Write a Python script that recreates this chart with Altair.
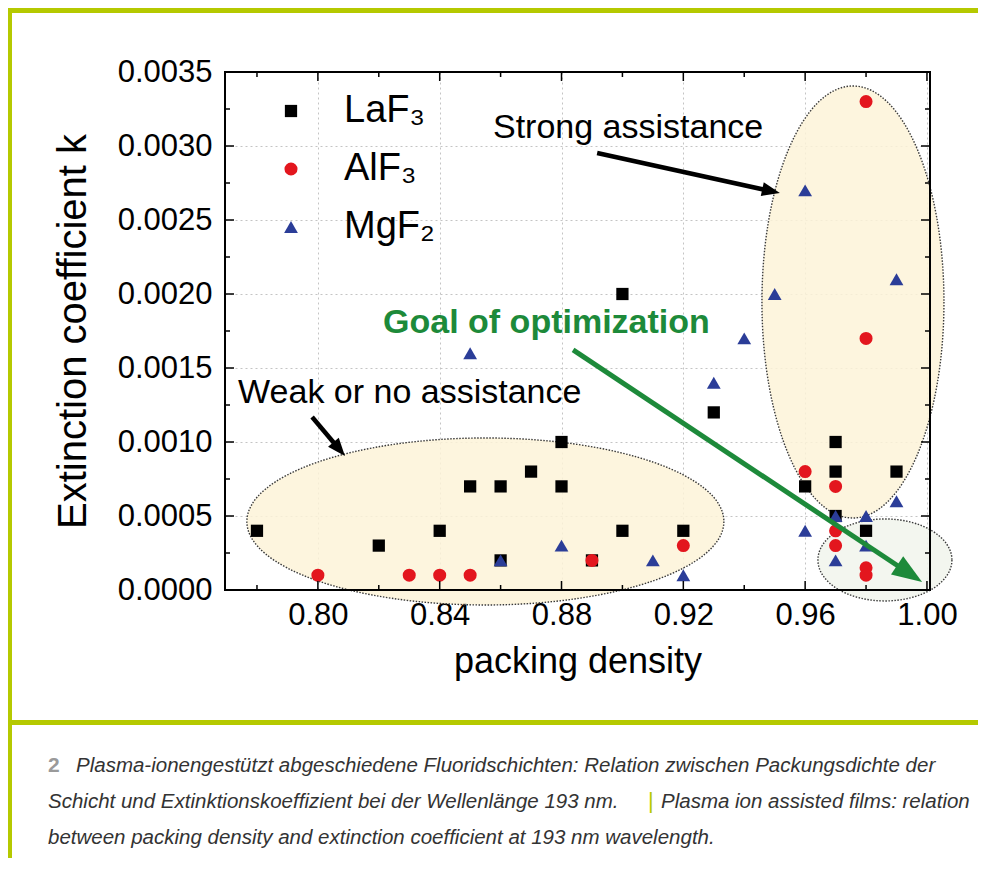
import math
import altair as alt
import pandas as pd

# ---------------- data ----------------
materials = ["LaF₃", "AlF₃", "MgF₂"]

laf3_x = [0.78, 0.82, 0.84, 0.85, 0.86, 0.86, 0.87, 0.88, 0.88, 0.89, 0.90, 0.90,
          0.92, 0.93, 0.96, 0.97, 0.97, 0.97, 0.98, 0.99]
laf3_y = [0.0004, 0.0003, 0.0004, 0.0007, 0.0007, 0.0002, 0.0008, 0.0010, 0.0007, 0.0002,
          0.0020, 0.0004, 0.0004, 0.0012, 0.0007, 0.0010, 0.0008, 0.0005, 0.0004, 0.0008]

alf3_x = [0.80, 0.83, 0.84, 0.85, 0.89, 0.92, 0.96, 0.97, 0.97, 0.97, 0.98, 0.98, 0.98, 0.98]
alf3_y = [0.0001, 0.0001, 0.0001, 0.0001, 0.0002, 0.0003, 0.0008, 0.0007, 0.0004, 0.0003,
          0.0033, 0.0017, 0.00015, 0.0001]

mgf2_x = [0.85, 0.86, 0.88, 0.91, 0.92, 0.93, 0.94, 0.95, 0.96, 0.96, 0.97, 0.97,
          0.98, 0.98, 0.99, 0.99]
mgf2_y = [0.0016, 0.0002, 0.0003, 0.0002, 0.0001, 0.0014, 0.0017, 0.0020, 0.0027, 0.0004,
          0.0005, 0.0002, 0.0005, 0.0003, 0.0021, 0.0006]

x_major_ticks = [0.80, 0.84, 0.88, 0.92, 0.96, 1.00]
x_minor_ticks = [0.78, 0.82, 0.86, 0.90, 0.94, 0.98]
y_major_ticks = [0.0, 0.0005, 0.0010, 0.0015, 0.0020, 0.0025, 0.0030, 0.0035]
y_minor_ticks = [0.00025, 0.00075, 0.00125, 0.00175, 0.00225, 0.00275, 0.00325]

x_title = "packing density"
y_title = "Extinction coefficient k"

label_strong = "Strong assistance"
label_weak = "Weak or no assistance"
label_goal = "Goal of optimization"

caption_num = "2"
caption_l1 = "Plasma-ionengestützt abgeschiedene Fluoridschichten: Relation zwischen Packungsdichte der"
caption_l2a = "Schicht und Extinktionskoeffizient bei der Wellenlänge 193 nm."
caption_sep = "|"
caption_l2b = "Plasma ion assisted films: relation"
caption_l3 = "between packing density and extinction coefficient at 193 nm wavelength."

# annotation anchors in data units
ell_weak = {"cx": 0.8550, "cy": 0.000463}
ell_strong = {"cx": 0.9757, "cy": 0.001946}
ell_goal = {"cx": 0.9862, "cy": 0.000203}
arrow_strong = (0.8917, 0.002953, 0.9517, 0.002682)
arrow_weak = (0.7981, 0.001169, 0.8089, 0.000905)
arrow_goal = (0.8838, 0.001622, 0.9984, 0.000054)
text_strong = (0.8575, 0.003054)
text_weak = (0.7738, 0.001264)
text_goal = (0.8214, 0.001737)

# ---------------- layout / style ----------------
W, H = 705, 518
X_DOMAIN = [0.7695, 1.001]
Y_DOMAIN = [0.0, 0.0035]
FONT = "Liberation Sans, Arial, Helvetica, sans-serif"
CAP_FONT = "Liberation Sans, Arial, sans-serif"
LIME = "#b5c900"
GREEN = "#1d8a3a"
OX, OY = 225, 72  # page position of plot origin

kx = W / (X_DOMAIN[1] - X_DOMAIN[0])
ky = H / (Y_DOMAIN[1] - Y_DOMAIN[0])

xs = alt.Scale(domain=X_DOMAIN, nice=False, zero=False)
ys = alt.Scale(domain=Y_DOMAIN, nice=False, zero=False)

x_axis = alt.Axis(title=x_title, values=x_major_ticks, format=".2f", ticks=False, domain=False,
                  labelFont=FONT, labelFontSize=31, labelColor="black", labelPadding=10,
                  titleFont=FONT, titleFontSize=36, titleFontWeight="normal", titleColor="black",
                  titlePadding=14, grid=True, gridDash=[2, 3], gridColor="#c4c4c4", gridWidth=1)
y_axis = alt.Axis(title=y_title, values=y_major_ticks, format=".4f", ticks=False, domain=False,
                  labelFont=FONT, labelFontSize=31, labelColor="black", labelPadding=13,
                  titleFont=FONT, titleFontSize=40, titleFontWeight="normal", titleColor="black",
                  titlePadding=24, grid=True, gridDash=[2, 3], gridColor="#c4c4c4", gridWidth=1)


def X(f):
    return alt.X(f, type="quantitative", scale=xs, axis=x_axis)


def Y(f):
    return alt.Y(f, type="quantitative", scale=ys, axis=y_axis)


one = pd.DataFrame({"k": [0]})

# ---------------- scatter ----------------
rows = []
for name, xv, yv in [(materials[0], laf3_x, laf3_y), (materials[1], alf3_x, alf3_y),
                     (materials[2], mgf2_x, mgf2_y)]:
    for a, b in zip(xv, yv):
        rows.append({"material": name, "pd": a, "k": b})
df = pd.DataFrame(rows)

legend = alt.Legend(orient="none", legendX=47, legendY=20, title=None, labelFont=FONT,
                    labelFontSize=38, labelColor="black", symbolSize=170, rowPadding=20,
                    labelOffset=34, symbolStrokeWidth=0, padding=0)

points = alt.Chart(df).mark_point(filled=True, opacity=1, strokeWidth=0).encode(
    x=X("pd"), y=Y("k"),
    color=alt.Color("material:N", scale=alt.Scale(domain=materials,
                                                  range=["#000000", "#e3161e", "#2b3d98"]),
                    legend=legend),
    shape=alt.Shape("material:N", scale=alt.Scale(domain=materials,
                                                  range=["square", "circle", "triangle-up"]),
                    legend=legend),
    size=alt.Size("material:N", scale=alt.Scale(domain=materials, range=[150, 190, 300]),
                  legend=None),
)


# ---------------- ellipses ----------------
def ellipse_path(rx, ry):
    k = 0.5523
    f = lambda v: f"{v:.4f}"
    return (f"M {f(rx)} 0 C {f(rx)} {f(k*ry)} {f(k*rx)} {f(ry)} 0 {f(ry)} "
            f"C {f(-k*rx)} {f(ry)} {f(-rx)} {f(k*ry)} {f(-rx)} 0 "
            f"C {f(-rx)} {f(-k*ry)} {f(-k*rx)} {f(-ry)} 0 {f(-ry)} "
            f"C {f(k*rx)} {f(-ry)} {f(rx)} {f(-k*ry)} {f(rx)} 0 Z")


def ellipse(center, rx_px, ry_px, fill):
    r = max(rx_px, ry_px)
    return alt.Chart(pd.DataFrame([center])).mark_point(
        shape=ellipse_path(rx_px / r, ry_px / r), size=(2 * r) ** 2, filled=True,
        fill=fill, fillOpacity=0.85, stroke="#3a3a3a", strokeWidth=1.4,
        strokeDash=[1.5, 1.5], opacity=1,
    ).encode(x=X("cx"), y=Y("cy"))


e_weak = ellipse(ell_weak, 238.5, 83.5, "#fdf3d8")
e_strong = ellipse(ell_strong, 91, 216, "#fdf3d8")
e_goal = ellipse(ell_goal, 67, 41, "#f1f4ec")


# ---------------- arrows ----------------
def arrow(coords, color, width, head_len, head_half):
    x0, y0, x1, y1 = coords
    dxp = (x1 - x0) * kx
    dyp = -(y1 - y0) * ky
    L = math.hypot(dxp, dyp)
    ux, uy = dxp / L, dyp / L
    back = head_len * 0.6
    xe = x1 - back * ux / kx
    ye = y1 + back * uy / ky
    ang = math.degrees(math.atan2(dyp, dxp)) % 360
    d = pd.DataFrame({"x0": [x0], "y0": [y0], "xe": [xe], "ye": [ye], "x1": [x1], "y1": [y1]})
    line = alt.Chart(d).mark_rule(color=color, strokeWidth=width).encode(
        x=X("x0"), y=Y("y0"), x2=alt.X2("xe"), y2=alt.Y2("ye"))
    s = head_len / 2
    hp = f"M 0 0 L -2 {-head_half / s:.4f} L -2 {head_half / s:.4f} Z"
    head = alt.Chart(d).mark_point(shape=hp, size=(2 * s) ** 2, filled=True, color=color,
                                   opacity=1, strokeWidth=0, angle=ang).encode(
        x=X("x1"), y=Y("y1"))
    return line + head


a_strong = arrow(arrow_strong, "black", 4.5, 18, 7)
a_weak = arrow(arrow_weak, "black", 4.5, 18, 7)
a_goal = arrow(arrow_goal, GREEN, 5, 30, 11)


# ---------------- annotation texts ----------------
def dtext(pos, txt, size, color, weight="normal"):
    d = pd.DataFrame({"x": [pos[0]], "y": [pos[1]]})
    return alt.Chart(d).mark_text(align="left", baseline="alphabetic", font=FONT, fontSize=size,
                                  color=color, fontWeight=weight).encode(
        x=X("x"), y=Y("y"), text=alt.value(txt))


t_strong = dtext(text_strong, label_strong, 34, "black")
t_weak = dtext(text_weak, label_weak, 34, "black")
t_goal = dtext(text_goal, label_goal, 34, GREEN, "bold")


# ---------------- ticks & frame ----------------
def xticks(vals, L):
    d = pd.DataFrame({"v": vals})
    b = alt.Chart(d).mark_rule(color="black", strokeWidth=1.5).encode(
        x=X("v"), y=alt.value(H), y2=alt.value(H - L))
    t = alt.Chart(d).mark_rule(color="black", strokeWidth=1.5).encode(
        x=X("v"), y=alt.value(0), y2=alt.value(L))
    return b + t


def yticks(vals, L):
    d = pd.DataFrame({"v": vals})
    l = alt.Chart(d).mark_rule(color="black", strokeWidth=1.5).encode(
        y=Y("v"), x=alt.value(0), x2=alt.value(L))
    r = alt.Chart(d).mark_rule(color="black", strokeWidth=1.5).encode(
        y=Y("v"), x=alt.value(W), x2=alt.value(W - L))
    return l + r


frame = alt.Chart(one).mark_rect(filled=False, color="black", strokeWidth=2).encode(
    x=alt.value(0), x2=alt.value(W), y=alt.value(0), y2=alt.value(H))


# ---------------- page decorations & caption ----------------
def prule(**enc):
    return alt.Chart(one).mark_rule(color=LIME, strokeWidth=5).encode(**enc)


bar_top = prule(x=alt.value(7 - OX), x2=alt.value(990 - OX), y=alt.value(10.5 - OY))
bar_left = prule(x=alt.value(9.5 - OX), y=alt.value(8 - OY), y2=alt.value(880 - OY))
bar_bot = prule(x=alt.value(7 - OX), x2=alt.value(990 - OX), y=alt.value(722.5 - OY))


def ptext(txt, xp, yp, color="#333333", size=20.5, style="italic", weight="normal", font=CAP_FONT):
    return alt.Chart(one).mark_text(align="left", baseline="alphabetic", font=font, fontSize=size,
                                    fontStyle=style, fontWeight=weight, color=color).encode(
        x=alt.value(xp - OX), y=alt.value(yp - OY), text=alt.value(txt))


cap = (ptext(caption_num, 48, 772, color="#9a9a9a", size=21, style="normal", weight="bold")
       + ptext(caption_l1, 76, 772)
       + ptext(caption_l2a, 48, 808)
       + ptext(caption_sep, 648, 808, color=LIME, style="normal", size=22)
       + ptext(caption_l2b, 661, 808)
       + ptext(caption_l3, 48, 844))

chart = alt.layer(
    e_weak, e_strong, e_goal, points, a_strong, a_weak, a_goal, t_strong, t_weak, t_goal,
    xticks(x_major_ticks, 9), xticks(x_minor_ticks, 5), yticks(y_major_ticks, 9),
    yticks(y_minor_ticks, 5), frame, bar_top, bar_left, bar_bot, cap,
).properties(
    width=W, height=H, autosize=alt.AutoSizeParams(type="none"),
    padding={"left": OX - 8, "top": OY - 8, "right": 970 - (OX - 8) - W, "bottom": 850 - (OY - 8) - H},
    background="white",
).configure_view(stroke=None)

chart.save("out.html", embed_options={"renderer": "svg", "actions": False})
